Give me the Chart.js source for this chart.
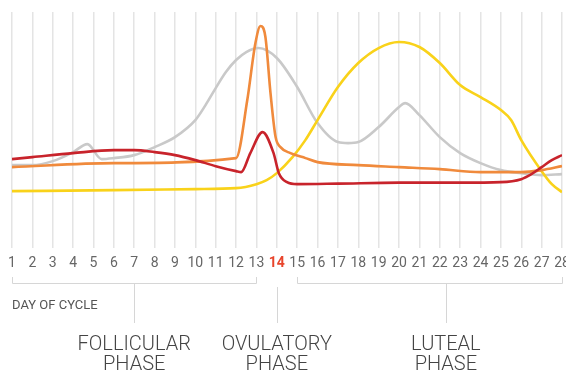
<!DOCTYPE html>
<html>
<head>
<meta charset="utf-8">
<script src="https://cdn.jsdelivr.net/npm/chart.js@4/dist/chart.umd.min.js"></script>
<style>
  html, body { margin: 0; padding: 0; background: #ffffff; }
  #wrap { width: 566px; height: 373px; position: relative; }
</style>
</head>
<body>
<div id="wrap"><canvas id="c" width="566" height="373"></canvas></div>
<script>
// ---- Data (relative hormone level) ----
const dayTicks = [1,2,3,4,5,6,7,8,9,10,11,12,13,14,15,16,17,18,19,20,21,22,23,24,25,26,27,28];
const highlightDay = 14;

const grayDays   = [1, 2, 3, 4, 4.7, 5.4, 6, 7, 8, 9, 10, 10.5, 11, 11.5, 12, 12.5, 13.1, 14, 15, 16, 17, 17.5, 18, 19, 20, 20.3, 21, 22, 23, 24, 25, 26, 27, 28];
const grayValues = [83, 83, 87, 96, 104, 89, 90, 93, 101, 111, 128, 143, 160, 176, 188, 196, 200, 190, 161, 125, 106, 105, 106, 121, 141, 145, 133, 111, 95, 85, 78, 75, 73, 74];

const orangeDays   = [1, 6, 12, 12.55, 12.95, 13.2, 13.44, 13.69, 13.94, 14.18, 14.67, 15.41, 16, 18, 20, 22, 24, 26, 27, 28];
const orangeValues = [81, 85, 90, 148, 205, 222, 211, 155, 111, 101, 95, 90, 86, 83, 81, 79, 76, 76, 78, 82];

const redDays   = [1, 2, 4, 6, 7, 8, 9, 10, 11, 12, 12.25, 12.7, 13.3, 13.84, 14.1, 14.5, 15, 17, 20, 23, 25, 26, 26.5, 27, 27.5, 28];
const redValues = [89, 91, 95, 98, 98, 96, 93, 88, 82, 77, 76, 95, 116, 95, 75, 66, 64, 64.5, 65.5, 65.5, 66, 69, 74, 81, 88, 93];

const yellowDays   = [1, 6, 10, 12, 13, 13.5, 14, 14.77, 15.4, 16, 17, 18, 19, 20, 21, 22, 23, 24, 25, 25.5, 26, 27, 27.5, 28];
const yellowValues = [57, 58, 59, 60, 64, 68, 75, 91, 108, 128, 161, 185, 200, 206, 201, 185, 163, 151, 138, 128, 108, 77, 64, 56];

const phaseNames = [["FOLLICULAR", "PHASE"], ["OVULATORY", "PHASE"], ["LUTEAL", "PHASE"]];
const phaseLabelDays = [7, 14, 22.3];
const phaseBrackets = [[1, 13], null, [15, 28]];
const axisTitle = "DAY OF CYCLE";

// ---- helpers ----
function pts(xs, ys) { return xs.map((x, i) => ({ x: x, y: ys[i] })); }

const lineCommon = {
  pointRadius: 0,
  borderWidth: 2.6,
  cubicInterpolationMode: 'monotone',
  fill: false
};

const phasePlugin = {
  id: 'phases',
  afterDraw(chart) {
    const ctx = chart.ctx;
    const xs = chart.scales.x;
    const px = d => xs.getPixelForValue(d);
    ctx.save();
    // brackets
    ctx.strokeStyle = '#d6d6d6';
    ctx.lineWidth = 1;
    const yB = 283.5, yT = 277;
    phaseBrackets.forEach((b, i) => {
      const cx = Math.round(px(phaseLabelDays[i])) + 0.5;
      ctx.beginPath();
      if (b) {
        const a = Math.round(px(b[0])) + 0.5, e = Math.round(px(b[1])) + 0.5;
        ctx.moveTo(a, yT); ctx.lineTo(a, yB); ctx.lineTo(e, yB); ctx.lineTo(e, yT);
        ctx.moveTo(cx, yB); ctx.lineTo(cx, 323);
      } else {
        ctx.moveTo(cx, 287); ctx.lineTo(cx, 323);
      }
      ctx.stroke();
    });
    // axis title
    ctx.fillStyle = '#555555';
    ctx.font = '13px Roboto, "Liberation Sans", sans-serif';
    ctx.textAlign = 'left';
    ctx.textBaseline = 'alphabetic';
    ctx.fillText(axisTitle, px(dayTicks[0]), 309);
    // phase labels
    ctx.fillStyle = '#444444';
    ctx.font = '300 20px Roboto, "Liberation Sans", sans-serif';
    ctx.textAlign = 'center';
    phaseNames.forEach((lines, i) => {
      const cx = px(phaseLabelDays[i]);
      ctx.fillText(lines[0], cx, 350);
      ctx.fillText(lines[1], cx, 370);
    });
    ctx.restore();
  }
};

new Chart(document.getElementById('c'), {
  type: 'line',
  data: {
    datasets: [
      Object.assign({ label: 'Red', data: pts(redDays, redValues), borderColor: '#c8232b' }, lineCommon),
      Object.assign({ label: 'Orange', data: pts(orangeDays, orangeValues), borderColor: '#f08a3c' }, lineCommon),
      Object.assign({ label: 'Yellow', data: pts(yellowDays, yellowValues), borderColor: '#f9d21a' }, lineCommon),
      Object.assign({ label: 'Gray', data: pts(grayDays, grayValues), borderColor: '#c9c9c9' }, lineCommon)
    ]
  },
  options: {
    responsive: false,
    animation: false,
    devicePixelRatio: 1,
    layout: { padding: { left: 12, right: 4, top: 12, bottom: 94 } },
    plugins: { legend: { display: false }, tooltip: { enabled: false } },
    scales: {
      x: {
        type: 'linear',
        min: 1,
        max: 28,
        afterBuildTicks(scale) { scale.ticks = dayTicks.map(v => ({ value: v })); },
        afterFit(scale) { scale.paddingLeft = 0; scale.paddingRight = 0; },
        grid: { color: '#e4e4e4', lineWidth: 1.5, drawTicks: false },
        border: { display: false },
        ticks: {
          autoSkip: false,
          maxRotation: 0,
          padding: 7,
          color: ctx => ctx.tick && ctx.tick.value === highlightDay ? '#e8452c' : '#666666',
          font: ctx => ({
            family: 'Roboto, "Liberation Sans", sans-serif',
            size: 14,
            weight: ctx.tick && ctx.tick.value === highlightDay ? 'bold' : 'normal'
          }),
          callback: v => String(v)
        }
      },
      y: {
        display: false,
        min: 0,
        max: 236
      }
    }
  },
  plugins: [phasePlugin]
});
</script>
</body>
</html>
